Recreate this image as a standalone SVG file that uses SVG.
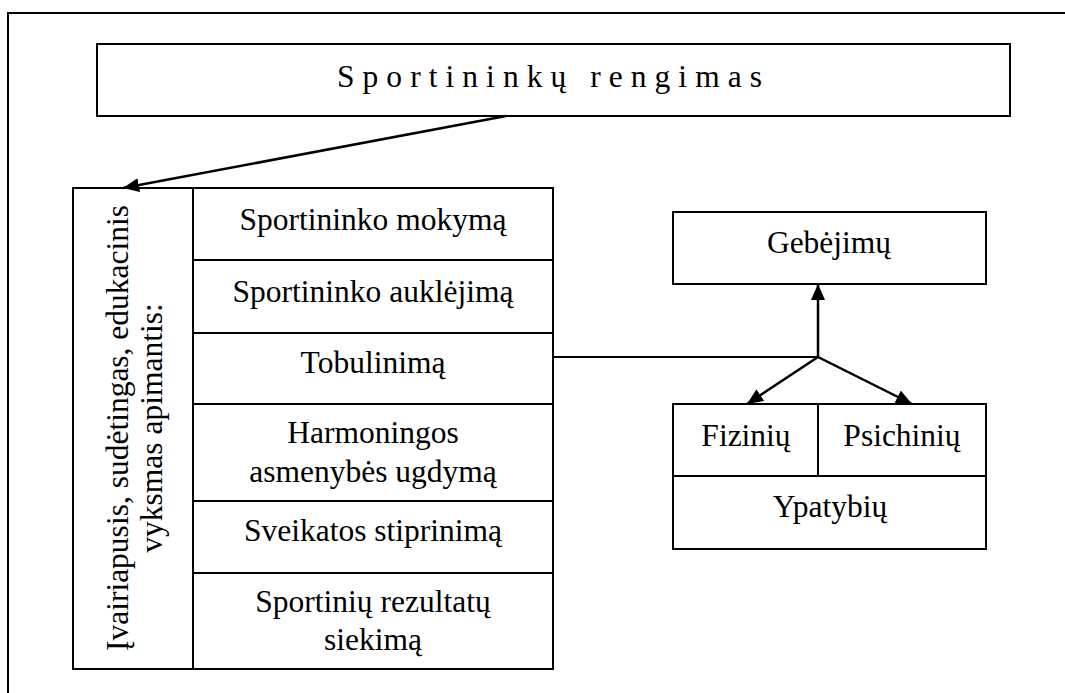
<svg xmlns="http://www.w3.org/2000/svg" width="1065" height="693" viewBox="0 0 1065 693">
  <style>
    .box { fill: #ffffff; stroke: #000000; stroke-width: 2; }
    .ln { fill: none; stroke: #000000; stroke-width: 2; }
    .con { fill: none; stroke: #000000; stroke-width: 2.5; }
    .t { font-family: "Liberation Serif", "Times New Roman", serif; font-size: 31.5px; fill: #000000; text-anchor: middle; }
  </style>
  <defs>
    <marker id="arr" markerUnits="userSpaceOnUse" markerWidth="17" markerHeight="15" refX="16" refY="7" orient="auto">
      <path d="M0,0 L16,7 L0,14 z" fill="#000000"/>
    </marker>
  </defs>
  <rect x="0" y="0" width="1065" height="693" fill="#ffffff"/>
  <path class="ln" d="M8,693 L8,13 L1065,13"/>

  <g id="title">
    <rect class="box" x="97" y="44" width="913" height="72"/>
    <text class="t" x="549.5" y="87" textLength="425" lengthAdjust="spacing">Sportininkų rengimas</text>
  </g>

  <g id="process">
    <rect class="box" x="73" y="188" width="480" height="481"/>
    <line class="ln" x1="193" y1="188" x2="193" y2="669"/>
    <text class="t" transform="translate(128,428) rotate(-90)" x="0" y="0">Įvairiapusis, sudėtingas, edukacinis</text>
    <text class="t" transform="translate(162,428) rotate(-90)" x="0" y="0">vyksmas apimantis:</text>
  </g>

  <g id="row-mokyma">
    <rect class="box" x="193" y="188" width="360" height="72"/>
    <text class="t" x="373" y="230">Sportininko mokymą</text>
  </g>
  <g id="row-aukle">
    <rect class="box" x="193" y="260" width="360" height="73"/>
    <text class="t" x="373" y="302">Sportininko auklėjimą</text>
  </g>
  <g id="row-tobul">
    <rect class="box" x="193" y="333" width="360" height="71"/>
    <text class="t" x="373" y="373">Tobulinimą</text>
  </g>
  <g id="row-harmon">
    <rect class="box" x="193" y="404" width="360" height="97"/>
    <text class="t" x="373" y="443">Harmoningos</text>
    <text class="t" x="373" y="482">asmenybės ugdymą</text>
  </g>
  <g id="row-sveik">
    <rect class="box" x="193" y="501" width="360" height="72"/>
    <text class="t" x="373" y="541">Sveikatos stiprinimą</text>
  </g>
  <g id="row-rezult">
    <rect class="box" x="193" y="573" width="360" height="96"/>
    <text class="t" x="373" y="612">Sportinių rezultatų</text>
    <text class="t" x="373" y="650">siekimą</text>
  </g>

  <g id="gebejimu">
    <rect class="box" x="673" y="212" width="313" height="72"/>
    <text class="t" x="829" y="253">Gebėjimų</text>
  </g>

  <g id="ypatybiu">
    <rect class="box" x="673" y="404" width="313" height="145"/>
    <line class="ln" x1="673" y1="476" x2="986" y2="476"/>
    <text class="t" x="830" y="517">Ypatybių</text>
  </g>
  <g id="fiziniu">
    <rect class="box" x="673" y="404" width="145" height="72"/>
    <text class="t" x="746" y="446">Fizinių</text>
  </g>
  <g id="psichiniu">
    <rect class="box" x="818" y="404" width="168" height="72"/>
    <text class="t" x="902" y="446">Psichinių</text>
  </g>

  <g id="connectors">
    <line class="con" x1="506" y1="116" x2="123" y2="188" marker-end="url(#arr)"/>
    <line class="ln" x1="553" y1="357" x2="818" y2="357"/>
    <line class="con" x1="818" y1="357" x2="818" y2="284" marker-end="url(#arr)"/>
    <line class="con" x1="818" y1="357" x2="747" y2="404" marker-end="url(#arr)"/>
    <line class="con" x1="818" y1="357" x2="912" y2="404" marker-end="url(#arr)"/>
  </g>
</svg>
